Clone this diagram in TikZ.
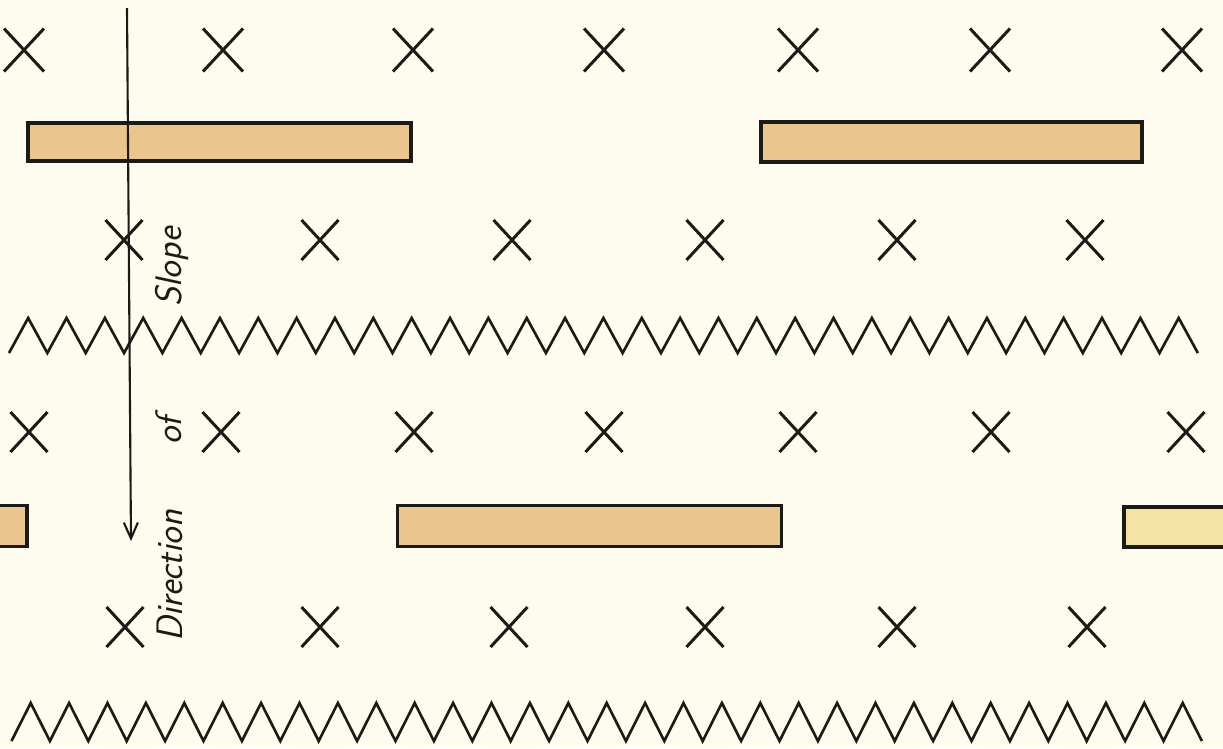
\documentclass[tikz,border=0pt]{standalone}
\usetikzlibrary{shapes.misc,arrows.meta}
\definecolor{paper}{HTML}{FEFCEE}
\definecolor{tan}{HTML}{EBC58E}
\definecolor{palebar}{HTML}{F4E2A6}
\definecolor{ink}{HTML}{1A1A16}
\begin{document}
\begin{tikzpicture}[x=0.02cm,y=-0.02cm,
  crossmark/.style={cross out,draw=ink,line width=1.7pt,inner sep=0pt,minimum width=34*0.02cm,minimum height=37*0.02cm},
  bigcross/.style={crossmark,minimum width=37*0.02cm,minimum height=40*0.02cm},
  barbox/.style={draw=ink,fill=tan,line width=2pt,inner sep=0pt},
  zig/.style={draw=ink,line width=1.5pt,line join=miter},
  label/.style={font=\fontsize{21}{24}\selectfont\sffamily\itshape,text=ink,rotate=90,anchor=base,inner sep=0pt}]
\fill[paper] (0,0) rectangle (1223,748);
\useasboundingbox (0,0) rectangle (1223,748);
\clip (0,0) rectangle (1223,748);
% bars
\node[barbox,minimum width=383*0.02cm,minimum height=38*0.02cm] (b1) at (219.5,142) {};
\node[barbox,minimum width=381*0.02cm,minimum height=40*0.02cm] (b2) at (951.5,142) {};
\node[barbox,minimum width=67*0.02cm,minimum height=41*0.02cm] (b3) at (-6.5,526) {};
\node[barbox,minimum width=384*0.02cm,minimum height=41*0.02cm] (b4) at (589.5,526) {};
\node[barbox,fill=palebar,minimum width=140*0.02cm,minimum height=40*0.02cm] (b5) at (1194,527) {};
% row 1 crosses
\foreach \x [count=\i] in {24,223,413,604,798,990,1182}
  \node[bigcross] (r1c\i) at (\x,50) {};
% row 2 crosses
\foreach \x [count=\i] in {124,320,512,705,897,1085}
  \node[crossmark] (r2c\i) at (\x,240) {};
% row 3 crosses
\foreach \x [count=\i] in {29,221,414,604,798,991,1186}
  \node[crossmark] (r3c\i) at (\x,432) {};
% row 4 crosses
\foreach \x [count=\i] in {125,320,509,705,897,1087}
  \node[crossmark] (r4c\i) at (\x,627) {};
% zigzags
\draw[zig] (9,353) \foreach \i in {0,...,30} { -- ({9+38.35*\i+19.17},318) -- ({9+38.35*(\i+1)},353) };
\draw[zig] (11.5,741) \foreach \i in {0,...,30} { -- ({11.5+38.4*\i+19.2},703) -- ({11.5+38.4*(\i+1)},741) };
% arrow
\coordinate (atop) at (127,8);
\coordinate (abot) at (131,541);
\draw[ink,line width=1.2pt,-{Straight Barb[length=9pt,width=8pt]}] (atop) -- (abot);
% labels
\node[label] (slope) at (181,267) {Slope};
\node[label] (of) at (181,431) {of};
\node[label] (dir) at (182,576) {Direction};
\end{tikzpicture}
\end{document}
